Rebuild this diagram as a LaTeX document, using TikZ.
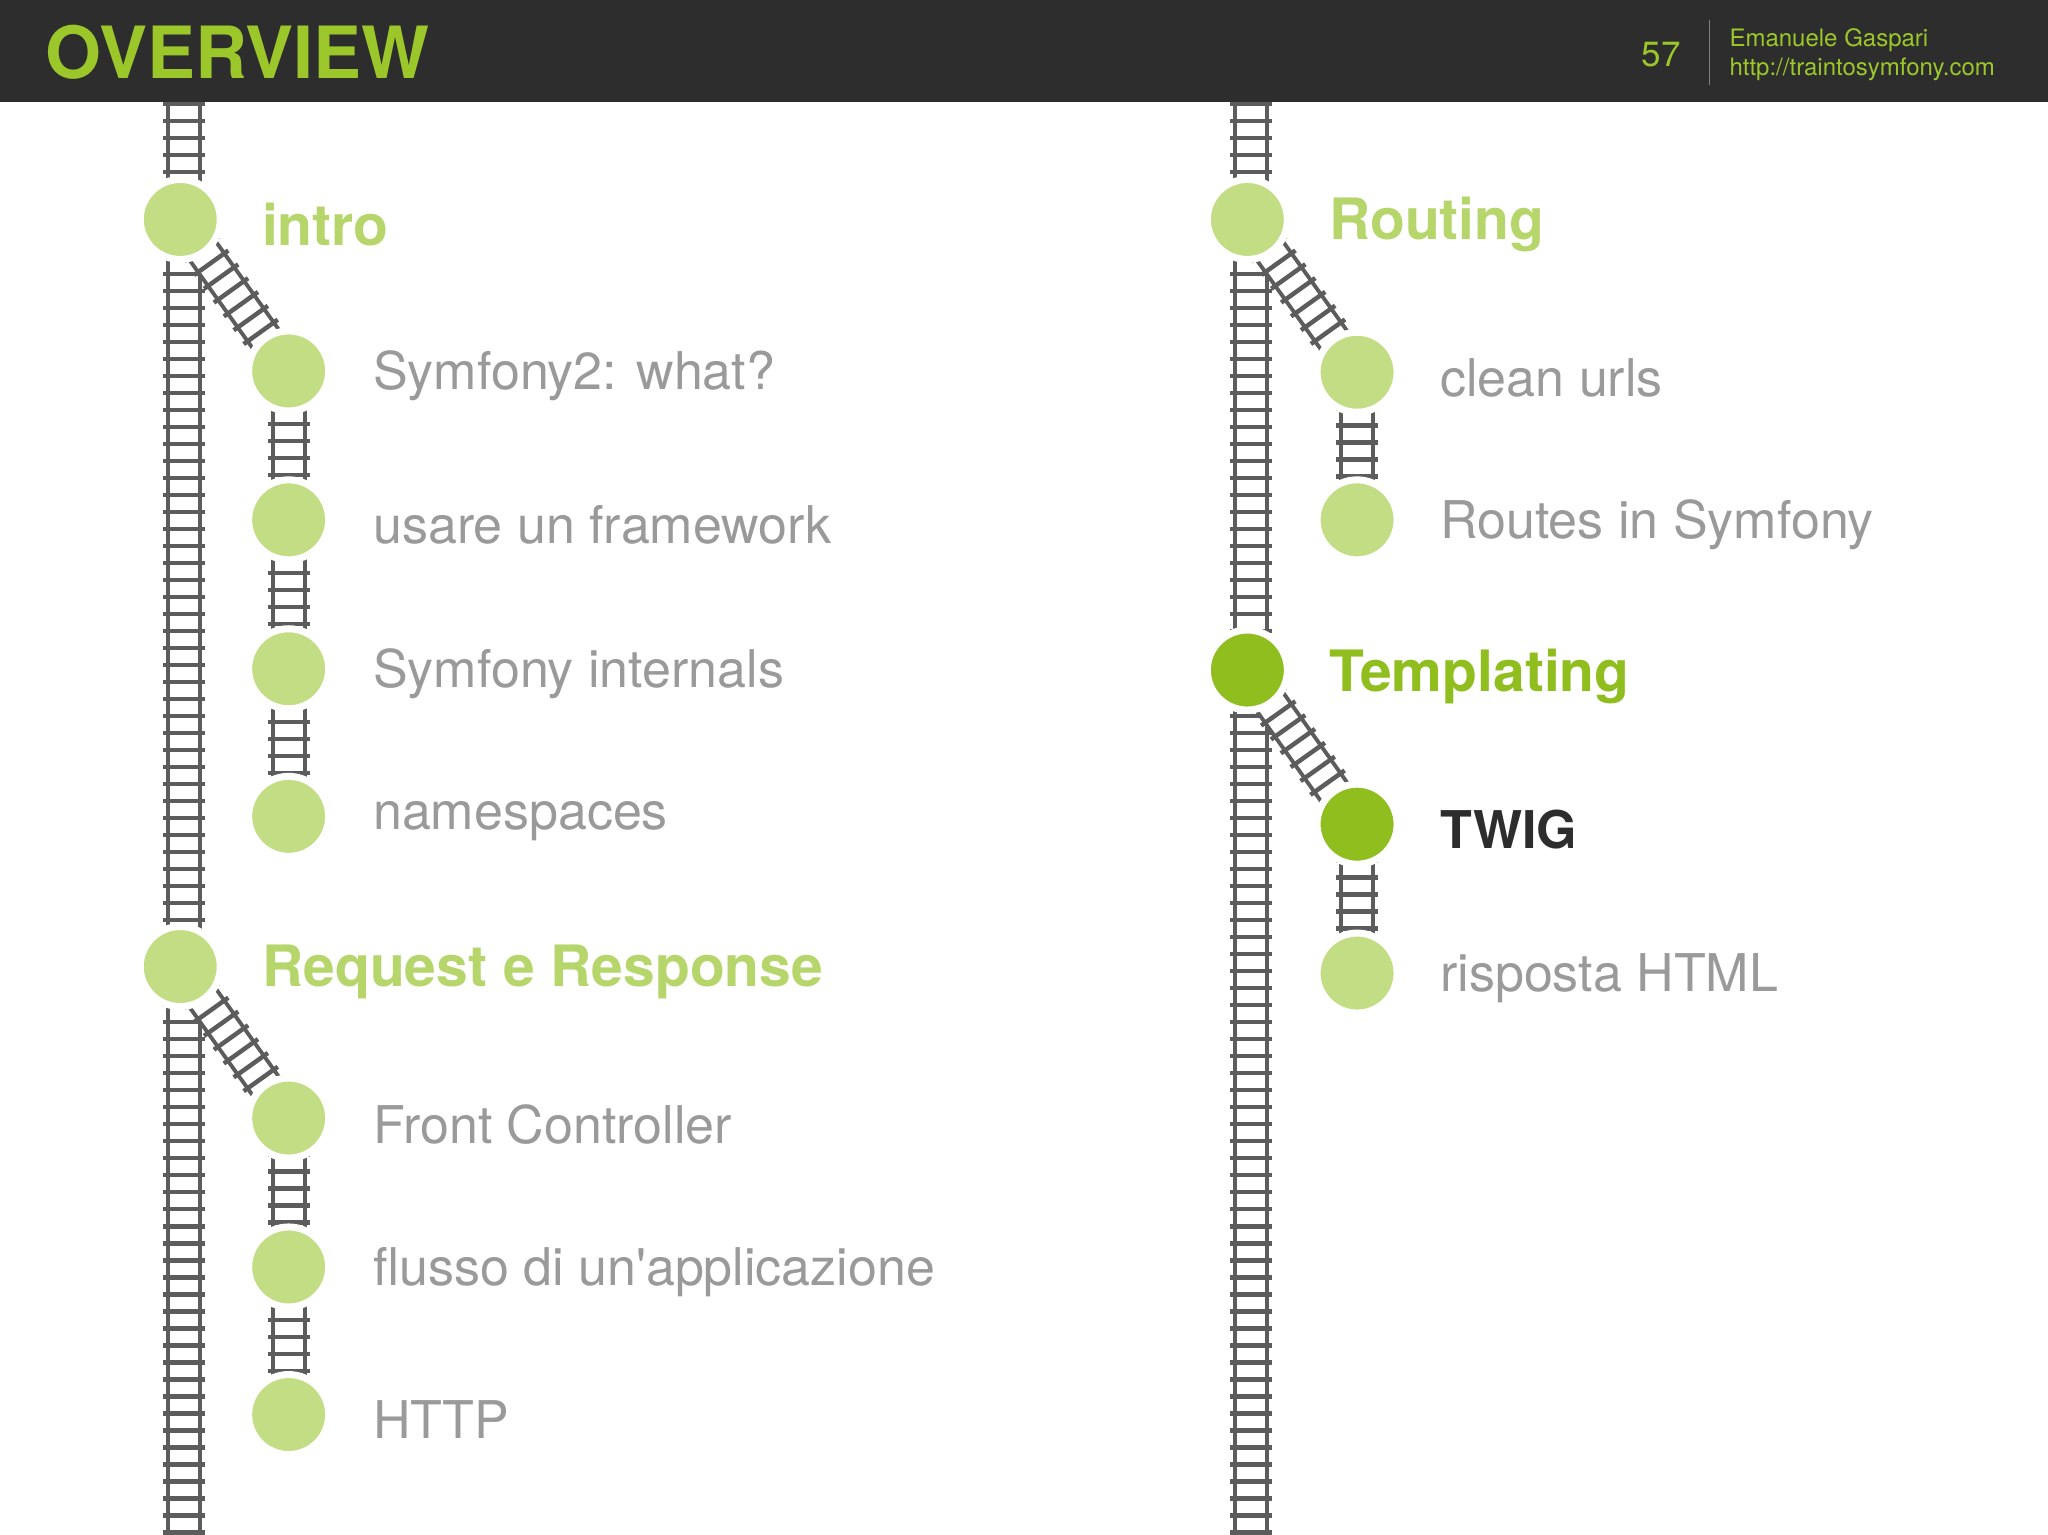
\documentclass[tikz,border=0pt]{standalone}
\usepackage{fontspec}
\setmainfont{TeX Gyre Heros}
\begin{document}
\begin{tikzpicture}[x=1.306pt,y=-1.306pt,
  tie/.style={draw=railgray,line width=42pt,dash pattern=on 4.5pt off 12.5pt},
  rail/.style={draw=railgray,line width=4pt,double=white,double distance=28pt},
  stopL/.style={circle,fill=lgreen,draw=white,line width=7pt,minimum size=80pt,inner sep=0pt},
  stopD/.style={stopL,fill=dgreen},
  mainlbl/.style={anchor=west,font=\bfseries\fontsize{57}{64}\selectfont,text=tgreen},
  sublbl/.style={anchor=west,font=\fontsize{52}{60}\selectfont,text=tgray}]
\definecolor{railgray}{HTML}{5C5C5C}
\definecolor{lgreen}{HTML}{C3DD84}
\definecolor{dgreen}{HTML}{8FBE1E}
\definecolor{tgreen}{HTML}{B6D66C}
\definecolor{tgray}{HTML}{9A9A9A}
\definecolor{hdr}{HTML}{2D2D2D}
\definecolor{hgreen}{HTML}{9BC72A}
\useasboundingbox (0,0) rectangle (1568,1175);
\fill[white] (0,0) rectangle (1568,1175);
% header
\fill[hdr] (0,0) rectangle (1568,78);
\node[anchor=west,font=\bfseries\fontsize{72}{78}\selectfont,text=hgreen,inner sep=0] (title) at (35,40) {OVERVIEW};
\node[font=\fontsize{35}{40}\selectfont,text=hgreen,inner sep=0] (pg) at (1272,42) {57};
\draw[gray,line width=1.3pt] (1309,15) -- (1309,65);
\node[anchor=west,font=\fontsize{24}{28}\selectfont,text=hgreen,inner sep=0] (auth) at (1324,31) {Emanuele Gaspari};
\node[anchor=west,font=\fontsize{24}{28}\selectfont,text=hgreen,inner sep=0] (url) at (1324,53) {http://traintosymfony.com};
% coordinates
\coordinate (LT) at (141,78); \coordinate (LB) at (141,1175);
\coordinate (RT) at (958,78); \coordinate (RB) at (958,1175);
\coordinate (m1) at (138,168); \coordinate (m2) at (138,740);
\coordinate (m3) at (955,168); \coordinate (m4) at (955,513);
\coordinate (a1) at (221,284); \coordinate (a2) at (221,398); \coordinate (a3) at (221,512); \coordinate (a4) at (221,625);
\coordinate (b1) at (221,856); \coordinate (b2) at (221,970); \coordinate (b3) at (221,1083);
\coordinate (c1) at (1039,285); \coordinate (c2) at (1039,398);
\coordinate (d1) at (1039,631); \coordinate (d2) at (1039,745);
% tracks
\foreach \p/\q in {LT/LB,RT/RB,m1/a1,a1/a2,a2/a3,a3/a4,m2/b1,b1/b2,b2/b3,m3/c1,c1/c2,m4/d1,d1/d2}{
  \draw[rail] (\p) -- (\q);
  \draw[tie] (\p) -- (\q);
}
% stops
\node[stopL] (n1) at (m1) {};
\node[stopL] (n2) at (m2) {};
\node[stopL] (n3) at (m3) {};
\node[stopD] (n4) at (m4) {};
\foreach \s in {a1,a2,a3,a4,b1,b2,b3,c1,c2,d2}{\node[stopL] (s\s) at (\s) {};}
\node[stopD] (sd1) at (d1) {};
% labels
\node[mainlbl] (t1) at (198,172) {intro};
\node[mainlbl] (t2) at (198,744) {Request e Response};
\node[mainlbl] (t3) at (1015,172) {Routing};
\node[mainlbl,text=dgreen] (t4) at (1015,518) {Templating};
\node[sublbl] (u1) at (283,288) {Symfony2: what?};
\node[sublbl] (u2) at (283,402) {usare un framework};
\node[sublbl] (u3) at (283,516) {Symfony internals};
\node[sublbl] (u4) at (283,629) {namespaces};
\node[sublbl] (v1) at (283,861) {Front Controller};
\node[sublbl] (v2) at (283,974) {flusso di un\textquotesingle applicazione};
\node[sublbl] (v3) at (283,1087) {HTTP};
\node[sublbl] (w1) at (1100,289) {clean urls};
\node[sublbl] (w2) at (1100,402) {Routes in Symfony};
\node[sublbl,font=\bfseries\fontsize{52}{60}\selectfont,text=hdr] (x1) at (1100,635) {TWIG};
\node[sublbl] (x2) at (1100,749) {risposta HTML};
\end{tikzpicture}
\end{document}
